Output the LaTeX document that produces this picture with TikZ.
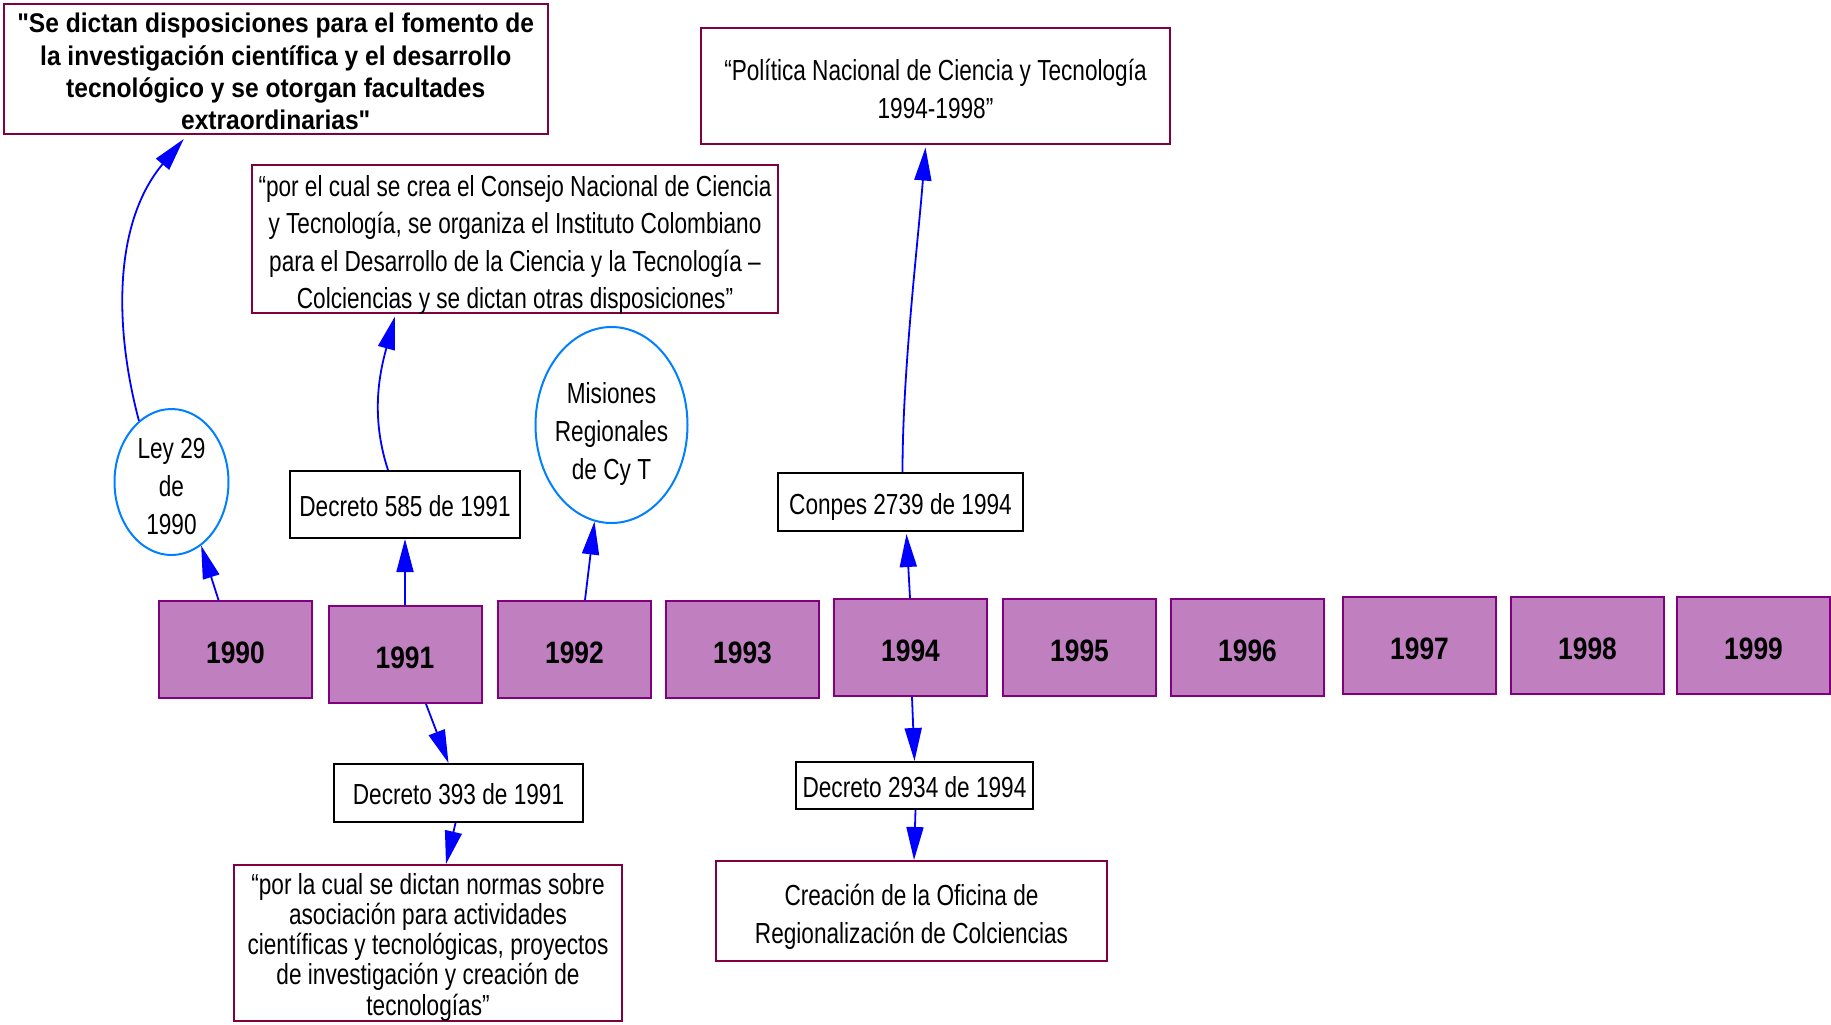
\documentclass[tikz,border=0pt]{standalone}
\usepackage{fontspec}
\setmainfont{Liberation Sans}
\newfontfamily\narr[FakeStretch=0.78]{Liberation Sans}
\newfontfamily\narrb[FakeStretch=0.91]{Liberation Sans}
\newfontfamily\yearfont[FakeStretch=0.85]{Liberation Sans}
\usetikzlibrary{arrows.meta,shapes.geometric,calc}
\definecolor{yearfill}{RGB}{192,128,192}
\definecolor{yeardraw}{RGB}{128,0,128}
\definecolor{maroonb}{RGB}{128,0,64}
\definecolor{ellblue}{RGB}{0,128,255}
\definecolor{arrblue}{RGB}{0,0,255}
\newcommand{\dtext}[2]{\raisebox{-#1}[\height][\depth]{\begin{tabular}{@{}c@{}}#2\end{tabular}}}
\begin{document}
\begin{tikzpicture}[x=0.5pt,y=-0.5pt,
 yearbox/.style={draw=yeardraw,fill=yearfill,line width=1pt,minimum width=76.5pt,minimum height=48.5pt,inner sep=0pt,font=\yearfont\bfseries\fontsize{15.5}{18}\selectfont},
 quotebox/.style={draw=maroonb,line width=1pt,inner sep=0pt,font=\narr\fontsize{14.5}{18.6}\selectfont},
 decbox/.style={draw=black,line width=1pt,inner sep=0pt,font=\narr\fontsize{14.5}{18}\selectfont},
 oval/.style={ellipse,draw=ellblue,line width=1pt,inner sep=-12pt,font=\narr\fontsize{14.5}{18.9}\selectfont},
 link/.style={draw=arrblue,line width=0.9pt,-{Triangle[length=16.5pt,width=8.5pt]}}
]
\useasboundingbox (0,0) rectangle (1831,1024);
\fill[white] (0,0) rectangle (1831,1024);

% year boxes
\node[yearbox] (y1990) at (235.5,649.5) {\dtext{3.25pt}{1990}};
\node[yearbox] (y1991) at (405,654.5) {\dtext{3.25pt}{1991}};
\node[yearbox] (y1992) at (574.5,649.5) {\dtext{3.25pt}{1992}};
\node[yearbox] (y1993) at (742.5,649.5) {\dtext{3.25pt}{1993}};
\node[yearbox] (y1994) at (910.5,647.5) {\dtext{3.25pt}{1994}};
\node[yearbox] (y1995) at (1079.5,647.5) {\dtext{3.25pt}{1995}};
\node[yearbox] (y1996) at (1247.5,647.5) {\dtext{3.25pt}{1996}};
\node[yearbox] (y1997) at (1419.5,645.5) {\dtext{3.25pt}{1997}};
\node[yearbox] (y1998) at (1587.5,645.5) {\dtext{3.25pt}{1998}};
\node[yearbox] (y1999) at (1753.5,645.5) {\dtext{3.25pt}{1999}};

% ovals
\node[oval,minimum width=57pt,minimum height=73pt] (ley) at (171.5,482) {\dtext{3.5pt}{Ley 29\\de\\1990}};
\node[oval,minimum width=76pt,minimum height=98pt] (mis) at (611.5,425) {\dtext{4.5pt}{Misiones\\Regionales\\de Cy T}};

% text boxes
\node[quotebox,minimum width=272.25pt,minimum height=65.25pt,font=\narrb\bfseries\fontsize{13.5}{16.15}\selectfont] (lawbox) at (275.75,68.75)
 {\dtext{3pt}{"Se dictan disposiciones para el fomento de\\la investigación científica y el desarrollo\\tecnológico y se otorgan facultades\\extraordinarias"}};
\node[quotebox,minimum width=263pt,minimum height=74pt] (consejo) at (515,239)
 {\dtext{3pt}{“por el cual se crea el Consejo Nacional de Ciencia\\y Tecnología, se organiza el Instituto Colombiano\\para el Desarrollo de la Ciencia y la Tecnología –\\Colciencias y se dictan otras disposiciones”}};
\node[quotebox,minimum width=234.5pt,minimum height=58pt] (politica) at (935.5,85.5)
 {\dtext{3.25pt}{“Política Nacional de Ciencia y Tecnología\\1994-1998”}};
\node[quotebox,minimum width=194pt,minimum height=78pt,font=\narr\fontsize{14.5}{14.75}\selectfont] (porla) at (428,943)
 {\dtext{2.8pt}{“por la cual se dictan normas sobre\\asociación para actividades\\científicas y tecnológicas, proyectos\\de investigación y creación de\\tecnologías”}};
\node[quotebox,minimum width=195.5pt,minimum height=50pt] (creacion) at (911.5,911)
 {\dtext{3pt}{Creación de la Oficina de\\Regionalización de Colciencias}};

% decree boxes
\node[decbox,minimum width=115pt,minimum height=33.5pt] (d585) at (405,504.5) {\dtext{2.2pt}{Decreto 585 de 1991}};
\node[decbox,minimum width=122.5pt,minimum height=29pt] (conpes) at (900.5,502) {\dtext{2.5pt}{Conpes 2739 de 1994}};
\node[decbox,minimum width=124.5pt,minimum height=29pt] (d393) at (458.5,793) {\dtext{2.2pt}{Decreto 393 de 1991}};
\node[decbox,minimum width=118.5pt,minimum height=23.5pt] (d2934) at (914.5,785.5) {\dtext{2.2pt}{Decreto 2934 de 1994}};

% connectors
\draw[link] ($(y1990.north)+(-17,0)$) -- (ley.-65);
\draw[link] (ley.118) .. controls +(-26,-98) and +(-69,82) .. ($(lawbox.south)+(-92,4)$);
\draw[link] (y1991.north) -- (d585.south);
\draw[link] ($(d585.north)+(-17,0)$) .. controls +(-18,-55) and +(-15,55) .. ($(consejo.south)+(-120,2)$);
\draw[link] ($(y1992.north)+(10.5,0)$) -- (mis.-100);
\draw[link] ($(y1994.north)+(-0.5,0)$) -- ($(conpes.south)+(6,2)$);
\draw[link] ($(conpes.north)+(2,0)$) .. controls +(0,-100) and +(-8,100) .. ($(politica.south)+(-10,3)$);
\draw[link] ($(y1991.south)+(21,0)$) -- ($(d393.north)+(-10,0)$);
\draw[link] ($(d393.south)+(-3,0)$) -- ($(porla.north)+(18,0)$);
\draw[link] ($(y1994.south)+(1.5,0)$) -- (d2934.north);
\draw[link] ($(d2934.south)+(1,0)$) -- ($(creacion.north)+(2.5,0)$);
\end{tikzpicture}
\end{document}
